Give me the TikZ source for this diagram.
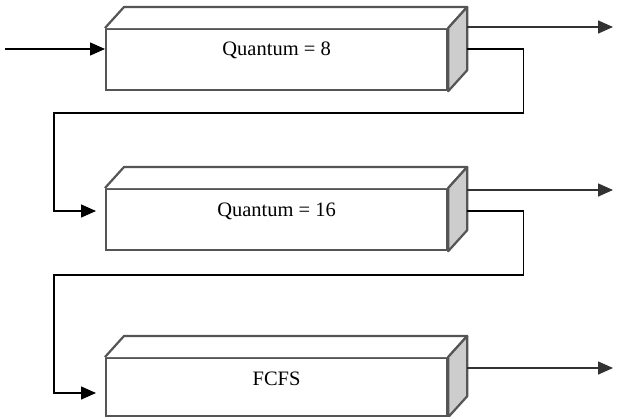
\documentclass[tikz,border=0pt]{standalone}
\usepackage{fontspec}
\setmainfont{Liberation Serif}
\usetikzlibrary{arrows.meta}
\definecolor{boxgray}{RGB}{85,85,85}
\definecolor{sidegray}{RGB}{205,205,205}
\definecolor{outgray}{RGB}{50,50,50}
\begin{document}
\begin{tikzpicture}[x=1pt,y=-1pt,
  front/.style={draw=boxgray,line width=2.2pt,fill=white,minimum width=341pt,minimum height=61pt,inner sep=0pt,anchor=north west},
  boxline/.style={draw=boxgray,line width=2.2pt,line join=round},
  lbl/.style={font=\fontsize{20.5}{22}\selectfont,inner sep=0pt},
  conn/.style={draw=black,line width=1.4pt,-{Triangle[length=15pt,width=13pt]}},
  outc/.style={draw=outgray,line width=1.6pt,-{Triangle[length=15pt,width=13pt]}}]
\useasboundingbox (0,0) rectangle (620,416);
% fronts
\node[front] (q1) at (105,28) {};
\node[front] (q2) at (105,188) {};
\node[front,minimum height=58pt] (q3) at (105,357) {};
% 3D faces
\foreach \q in {q1,q2,q3}{
  \draw[boxline,fill=white] (\q.north west) -- ++(19,-21) -- ([shift={(19,-21)}]\q.north east) -- (\q.north east);
  \draw[boxline,fill=sidegray] (\q.north east) -- ([shift={(19,-21)}]\q.north east) -- ([shift={(19,-21)}]\q.south east) -- (\q.south east) -- cycle;
}
% labels
\node[lbl] (t1) at ([shift={(0,22)}]q1.north) {Quantum = 8};
\node[lbl] (t2) at ([shift={(0,23)}]q2.north) {Quantum = 16};
\node[lbl] (t3) at ([shift={(0,22)}]q3.north) {FCFS};
% coordinates
\coordinate (in) at (5,49);
\coordinate (o1) at (613,27);
\coordinate (o2) at (613,190);
\coordinate (o3) at (613,368);
\coordinate (fb1) at (54,113);
\coordinate (fb2) at (54,275);
% input
\draw[conn] (in) -- ([shift={(0,21)}]q1.north west);
% outputs
\draw[outc] ([shift={(19,-1)}]q1.north east) -- (o1);
\draw[outc] ([shift={(19,2)}]q2.north east) -- (o2);
\draw[outc] ([shift={(19,11)}]q3.north east) -- (o3);
% feedback
\draw[conn] ([shift={(19,21)}]q1.north east) -- ++(56,0) |- (fb1) |- ([shift={(-9,23)}]q2.north west);
\draw[conn] ([shift={(19,23)}]q2.north east) -- ++(56,0) |- (fb2) |- ([shift={(-9,36)}]q3.north west);
\end{tikzpicture}
\end{document}
